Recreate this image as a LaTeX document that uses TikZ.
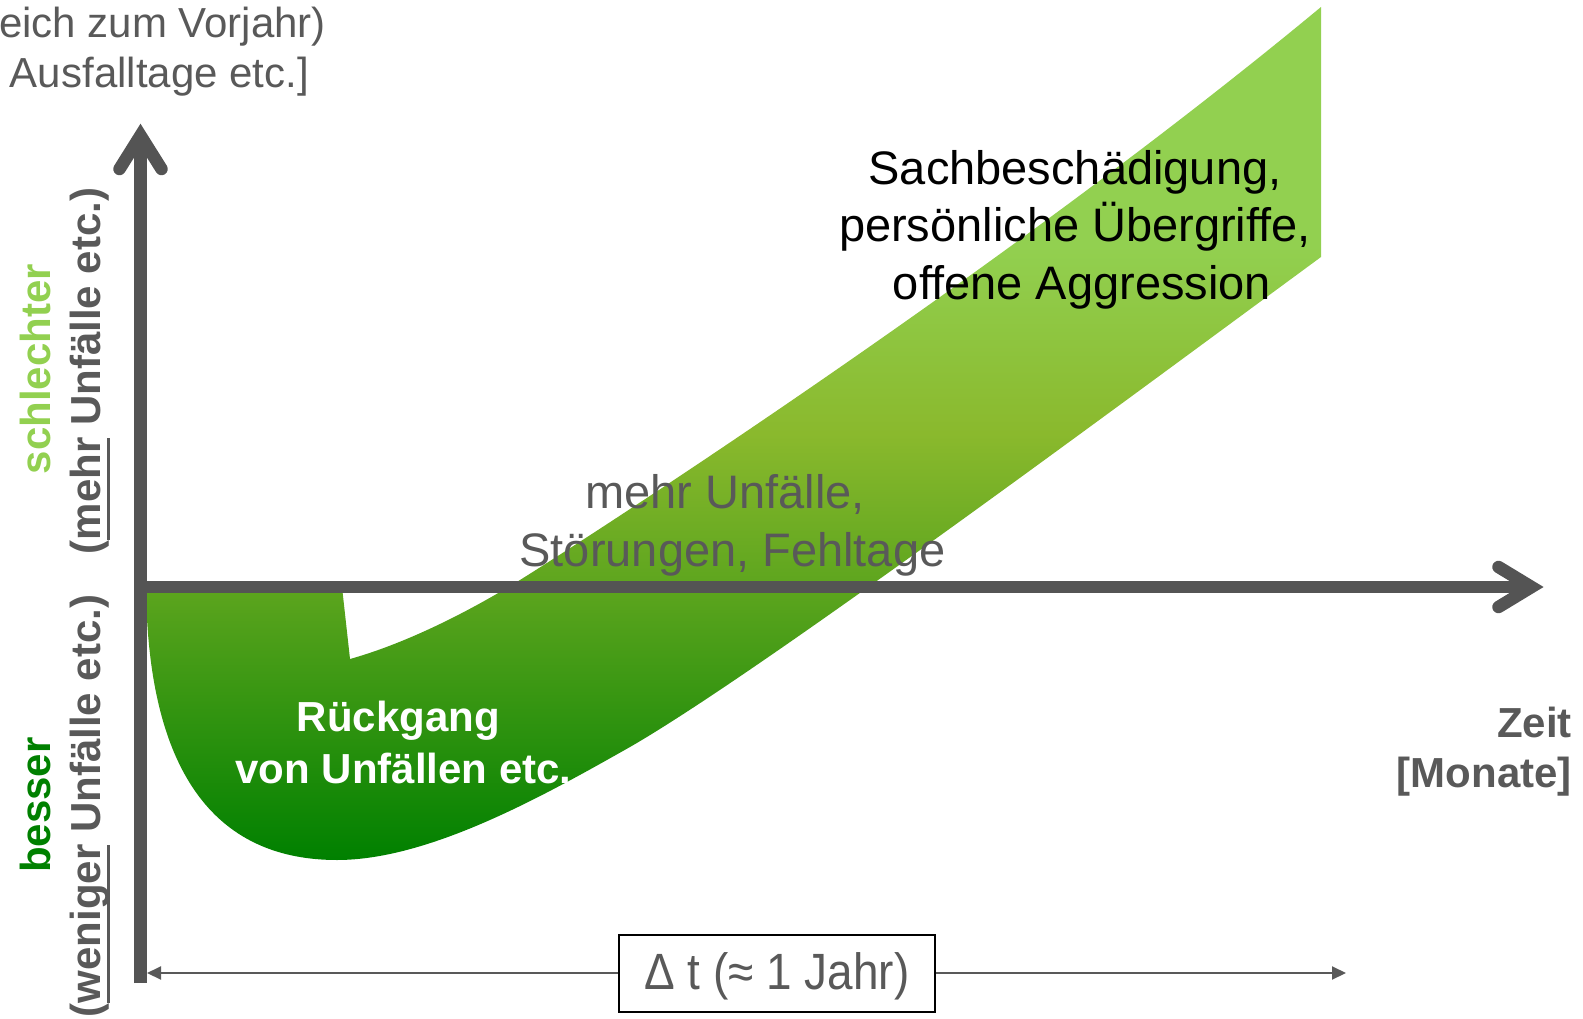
\documentclass[tikz,border=0pt]{standalone}
\usepackage{fontspec}
\setmainfont{Liberation Sans}
\newfontfamily\narrowsans[FakeStretch=0.9]{Liberation Sans}
\usetikzlibrary{arrows.meta}
\definecolor{axisgray}{HTML}{545454}
\definecolor{txtgray}{HTML}{595959}
\definecolor{lightgreen}{HTML}{92D050}
\definecolor{darkgreen}{HTML}{008000}
\definecolor{midgreen}{HTML}{5DA51E}
\definecolor{olivegreen}{HTML}{8AB92D}
\pgfdeclareverticalshading{bandshade}{100bp}{color(0bp)=(darkgreen); color(25bp)=(darkgreen); color(41bp)=(midgreen); color(50bp)=(olivegreen); color(61bp)=(lightgreen); color(100bp)=(lightgreen)}
\newcommand\myul[1]{\setbox0\hbox{#1}\rlap{\rule[-9.5pt]{\wd0}{3pt}}\box0\relax}
\tikzset{
  axisline/.style={line width=12.5pt, draw=axisgray},
  axishead/.style={line width=12.5pt, draw=axisgray, line cap=round, line join=miter},
  lbl/.style={inner sep=0pt, anchor=base},
  graytxt/.style={lbl, text=txtgray, font=\fontsize{47}{57}\selectfont},
  blacktxt/.style={lbl, text=black, font=\fontsize{47}{57}\selectfont},
  whitetxt/.style={lbl, text=white, font=\bfseries\fontsize{42}{50}\selectfont},
  titletxt/.style={inner sep=0pt, anchor=base east, text=txtgray, font=\fontsize{42}{50}\selectfont},
  unittxt/.style={inner sep=0pt, anchor=base east, text=txtgray, font=\bfseries\fontsize{42}{50}\selectfont},
  sidetxt/.style={lbl, rotate=90, font=\bfseries\fontsize{42}{50}\selectfont},
  dimline/.style={draw=txtgray, line width=2pt, -{Triangle[length=14pt,width=13pt]}},
  dimbox/.style={draw=black, line width=2pt, fill=white, minimum width=316pt, minimum height=77pt, inner sep=0pt, text height=45pt, text depth=12pt, text=txtgray, font=\narrowsans\fontsize{51}{60}\selectfont}
}
\begin{document}
\begin{tikzpicture}[x=1pt,y=-1pt]
\useasboundingbox (0,0) rectangle (1583,1019);
% band
\shade[shading=bandshade] (146,587) .. controls (148,782) and (222,860) .. (337,860)
  .. controls (430,860) and (545,795) .. (630,747)
  .. controls (760,672) and (1110,412) .. (1321,257)
  -- (1321,7)
  .. controls (1010,265) and (600,530) .. (520,580)
  .. controls (460,617) and (400,645) .. (350,659)
  -- (342,587) -- cycle;
% axes
\coordinate (ybot) at (140.5,983);
\coordinate (ytip) at (140.5,135.5);
\coordinate (xleft) at (134,587);
\coordinate (xtip) at (1531.5,587);
\draw[axisline] (ybot) -- (ytip);
\draw[axishead] (ytip) ++(-21,33.5) -- (ytip) -- ++(21,33.5);
\draw[axisline] (xleft) -- (xtip);
\draw[axishead] (xtip) ++(-33,-20) -- (xtip) -- ++(-33,20);
% axis title (cut off)
\node[titletxt] (yt1) at (326,38) {eich zum Vorjahr)};
\node[titletxt] (yt2) at (309,88) {Ausfalltage etc.]};
% side labels
\node[sidetxt, text=lightgreen] (worse) at (50,369) {schlechter};
\node[sidetxt, text=txtgray] (worse2) at (100,371) {(\myul{mehr} Unfälle etc.)};
\node[sidetxt, text=darkgreen] (better) at (50,805) {besser};
\node[sidetxt, text=txtgray] (better2) at (100,806) {(\myul{weniger} Unfälle etc.)};
% texts in the band
\node[blacktxt] (s1) at (1075,185) {Sachbeschädigung,};
\node[blacktxt] (s2) at (1075,242) {persönliche Übergriffe,};
\node[blacktxt] (s3) at (1082,299) {offene Aggression};
\node[graytxt] (m1) at (725,508) {mehr Unfälle,};
\node[graytxt] (m2) at (732.5,566.5) {Störungen, Fehltage};
\node[whitetxt] (r1) at (398.5,731.5) {Rückgang};
\node[whitetxt] (r2) at (403.5,783) {von Unfällen etc.};
% time axis label
\node[unittxt] (z1) at (1572,737) {Zeit};
\node[unittxt] (z2) at (1572,787) {[Monate]};
% dimension
\coordinate (dl) at (147,973);
\coordinate (dr) at (1346,973);
\node[dimbox] (dt) at (777,973) {Δ t (≈ 1 Jahr)};
\draw[dimline] (dt.west) -- (dl);
\draw[dimline] (dt.east) -- (dr);
\end{tikzpicture}
\end{document}
